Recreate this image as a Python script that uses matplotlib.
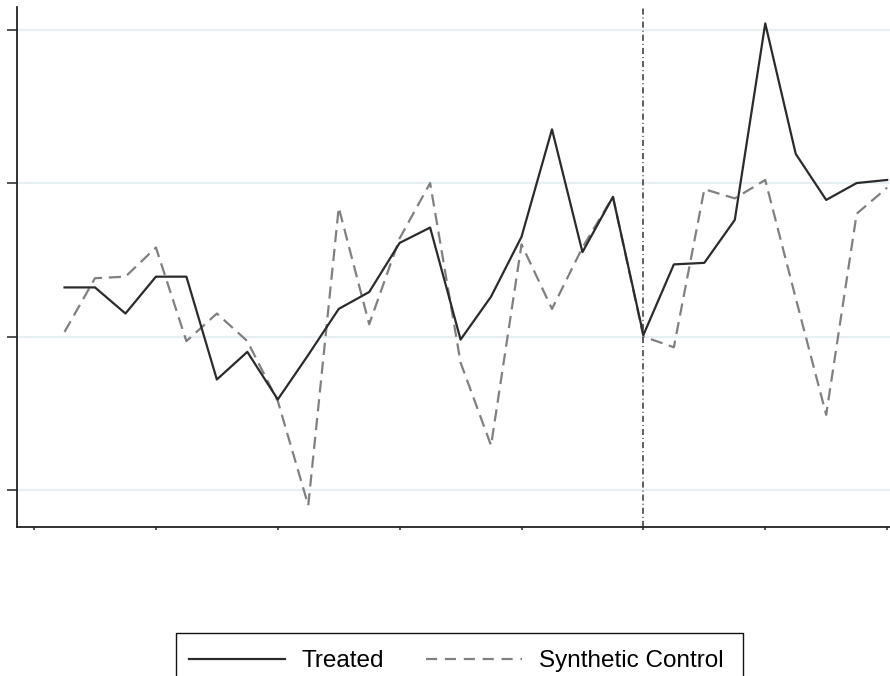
import matplotlib
matplotlib.use("Agg")
import matplotlib.pyplot as plt
from matplotlib.lines import Line2D
from matplotlib.patches import Rectangle

periods = list(range(1, 29))
treated = [1.32, 1.32, 1.15, 1.39, 1.39, 0.72, 0.90, 0.59, 0.88, 1.18,
           1.29, 1.61, 1.71, 0.98, 1.26, 1.65, 2.35, 1.55, 1.91, 1.01,
           1.47, 1.48, 1.76, 3.04, 2.19, 1.89, 2.00, 2.02]
synthetic = [1.03, 1.38, 1.39, 1.58, 0.97, 1.15, 0.97, 0.58, -0.10, 1.84,
             1.08, 1.64, 2.00, 0.83, 0.29, 1.60, 1.18, 1.58, 1.91, 1.00,
             0.93, 1.96, 1.90, 2.02, 1.25, 0.49, 1.80, 1.97]
treatment_period = 20
x_ticks = [0, 4, 8, 12, 16, 20, 24, 28]
y_ticks = [0, 1, 2, 3]
series_labels = ["Treated", "Synthetic Control"]

plt.rcParams['font.family'] = ['Liberation Sans', 'DejaVu Sans']

W, H = 890, 676
fig = plt.figure(figsize=(W/100, H/100), dpi=100)
ax = fig.add_axes([17/W, 149/H, 875/W, 520/H])

ax.set_xlim(-0.56, 28.16)
ax.set_ylim(-0.241, 3.147)

for yv in y_ticks:
    ax.axhline(yv, color='#e6eff1', lw=1.6, zorder=0)

ax.plot(periods, treated, color='#2b2b2b', lw=1.6, zorder=3)
ax.plot(periods, synthetic, color='#808080', lw=1.6, dashes=(5.5, 3.0), zorder=2)
ax.axvline(treatment_period, color='#333333', lw=1.1,
           dashes=(4, 2, 0.6, 2), zorder=4)

ax.set_xticks(x_ticks)
ax.set_yticks(y_ticks)
ax.set_xticklabels([])
ax.set_yticklabels([])
ax.tick_params(axis='y', length=7, width=1.1, color='#222222', direction='out')
ax.tick_params(axis='x', length=2.5, width=1.1, color='#222222', direction='out')

for s in ['top', 'right']:
    ax.spines[s].set_visible(False)
for s in ['left', 'bottom']:
    ax.spines[s].set_linewidth(1.3)
    ax.spines[s].set_color('#222222')

handles = [Line2D([0], [0], color='#2b2b2b', lw=1.6),
           Line2D([0], [0], color='#808080', lw=1.6, dashes=(5, 3.5))]
leg = fig.legend(handles, series_labels, loc='center',
                 bbox_to_anchor=(456/W, (H - 661)/H), ncol=2, fontsize=17.5,
                 frameon=False, handlelength=3.95,
                 handletextpad=0.68, columnspacing=1.75, borderpad=0,
                 borderaxespad=0)

frame = Rectangle((176/W, (H - 700)/H), (743 - 176)/W, (700 - 633)/H,
                  transform=fig.transFigure, fill=False,
                  edgecolor='#111111', linewidth=1.0, clip_on=False)
fig.patches.append(frame)

fig.savefig('out.png', dpi=100)
